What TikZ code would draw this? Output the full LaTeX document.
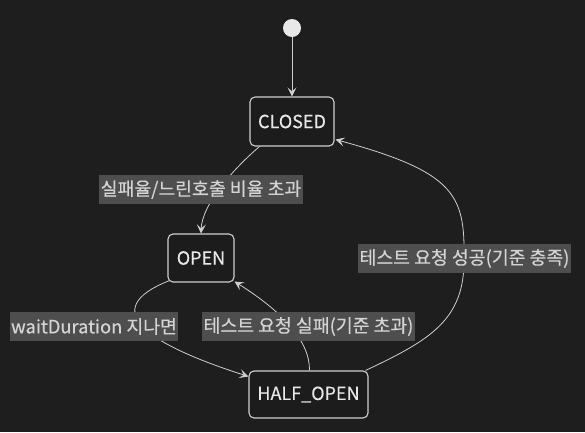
\documentclass[tikz,border=0pt]{standalone}
\usepackage{fontspec}
\newfontfamily\kr{Noto Sans CJK KR}[FakeBold=0.35]
\usetikzlibrary{arrows.meta,calc}
\definecolor{bgc}{HTML}{1E1E1E}
\definecolor{nodefill}{HTML}{1C1C1C}
\definecolor{linec}{HTML}{CFCFCF}
\definecolor{txtc}{HTML}{E8E8E8}
\definecolor{lblfill}{HTML}{4E4E4E}
\definecolor{lbltxt}{HTML}{D4D4D4}
\tikzset{
  state/.style={draw=linec, line width=1.1pt, fill=nodefill, rounded corners=5pt,
    text=txtc, font=\kr\fontsize{18}{21}\selectfont, inner sep=0pt, minimum height=48pt},
  lbl/.style={fill=lblfill, text=lbltxt, font=\kr\fontsize{18.3}{21}\selectfont,
    inner xsep=1.5pt, inner ysep=0pt, minimum height=29pt},
  edge/.style={draw=linec, line width=0.8pt, -{Stealth[length=9pt,width=9pt,inset=4pt]}},
}
\begin{document}
\begin{tikzpicture}[x=1pt,y=-1pt]
\fill[bgc] (0,0) rectangle (585,432);
\useasboundingbox (0,0) rectangle (585,432);

\node[circle, fill=txtc, minimum size=18pt, inner sep=0pt] (start) at (292,28) {};
\node[state, minimum width=84pt, minimum height=49pt] (closed) at (292,121.5) {CLOSED};
\node[state, minimum width=66pt] (open) at (201,258) {OPEN};
\node[state, minimum width=119pt, minimum height=47pt] (half) at (308.5,394.5) {HALF\_OPEN};

\draw[edge] (start) -- (closed);
\draw[edge] ($(closed.south west)+(10,0)$) .. controls (232,170) and (202,205) .. (open.north);
\draw[edge] ($(open.south west)+(2,-2)$) .. controls (95,310) and (150,345) .. ($(half.north west)+(0,6)$);
\draw[edge] ($(half.north)+(1,0)$) .. controls (310,340) and (280,310) .. ($(open.south east)+(0,-1)$);
\draw[edge] ($(half.north east)+(-3,0)$) .. controls (430,340) and (465,320) .. (464,258)
  .. controls (465,195) and (455,172) .. ($(closed.south east)+(1,-7)$);

\node[lbl] (l1) at (201,189.5) {실패율/느린호출 비율 초과};
\node[lbl] (l2) at (94,326.5) {waitDuration 지나면};
\node[lbl] (l3) at (308.5,326.5) {테스트 요청 실패(기준 초과)};
\node[lbl] (l4) at (464.5,258.5) {테스트 요청 성공(기준 충족)};
\end{tikzpicture}
\end{document}
